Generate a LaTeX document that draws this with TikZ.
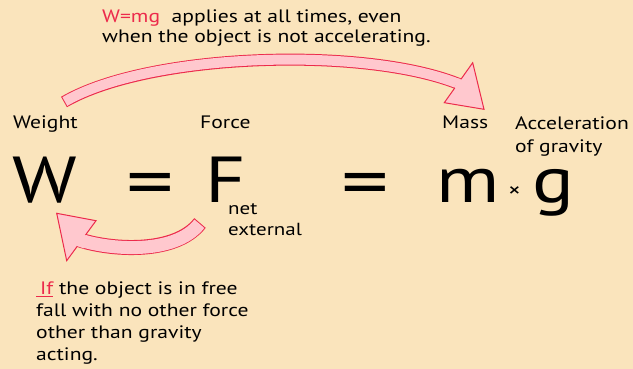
\documentclass[tikz,border=0pt]{standalone}
\usepackage{fontspec}
\setmainfont{PT Sans}[FakeStretch=1.2]
\newfontfamily\eqfont{DejaVu Sans}
\usepackage{xcolor}
\usepackage{tikz}
\usetikzlibrary{positioning,calc}
\definecolor{Paper}{HTML}{FAE4BC}
\definecolor{Accent}{HTML}{EC2A4B}
\definecolor{Blush}{HTML}{FFC8CE}

\begin{document}
\begin{tikzpicture}[x=1pt,y=-1pt,
  lbl/.style={inner sep=0pt,anchor=base west,font=\fontsize{18}{23.5}\selectfont,align=left},
  big/.style={inner sep=0pt,anchor=base west,font=\fontsize{65}{65}\selectfont},
  note/.style={inner sep=0pt,anchor=base west,font=\fontsize{18}{21.7}\selectfont,align=left}]
\fill[Paper] (0,0) rectangle (633,369);
\useasboundingbox (0,0) rectangle (633,369);

% top remark (base = last line)
\node[note,font=\fontsize{18}{20}\selectfont] (always) at (102,43) {\textcolor{Accent}{W=mg}\ \ applies at all times, even\\when the object is not accelerating.};

% word labels
\node[lbl] (weight) at (13,129) {Weight};
\node[lbl] (force) at (200,129) {Force};
\node[lbl] (mass) at (442,129) {Mass};
\node[lbl] (accel) at (515,152.7) {Acceleration\\of gravity};

% the equation
\node[big] (W) at (12,203) {W};
\node[big,font=\fontsize{64}{64}\eqfont] (eqa) at (123,203) {=};
\node[big] (F) at (205,203) {F};
\node[lbl,font=\fontsize{17.5}{20.5}\selectfont] (net) at (228,235) {net\\external};
\node[big,font=\fontsize{64}{64}\eqfont] (eqb) at (338,203) {=};
\node[big] (m) at (436,203) {m};
\node[lbl,font=\fontsize{21}{21}\selectfont] (times) at (508,197) {×};
\node[big] (g) at (532,203) {g};

% bottom remark
\node[note] (freefall) at (36,360) {\textcolor{Accent}{\underline{\hspace{4pt}If}} the object is in free\\fall with no other force\\other than gravity\\acting.};

% top arrow, W=mg always
\coordinate (ta) at (64,102);
\coordinate (tb) at (462,85.3);
\draw[Accent,line width=12] (ta) .. controls (150,52) and (370,46) .. (tb);
\draw[Blush,line width=10,shorten <=1pt] (ta) .. controls (150,52) and (370,46) .. (tb);
\filldraw[fill=Blush,draw=Accent,line width=1] (472.7,62.7) -- (484,109.3) -- (444.3,102.7) -- cycle;
\draw[Blush,line width=10] (456.5,83) -- (462,85.3);

% bottom arrow, free fall
\coordinate (ba) at (200,223);
\coordinate (bb) at (79,239.7);
\draw[Accent,line width=15] (ba) .. controls (175,255) and (110,250) .. (bb);
\draw[Blush,line width=13,shorten <=1pt] (ba) .. controls (175,255) and (110,250) .. (bb);
\filldraw[fill=Blush,draw=Accent,line width=1] (96,220.7) -- (56.7,213.3) -- (66.7,260.7) -- cycle;
\draw[Blush,line width=13] (86,242.3) -- (79,239.7);
\end{tikzpicture}
\end{document}
